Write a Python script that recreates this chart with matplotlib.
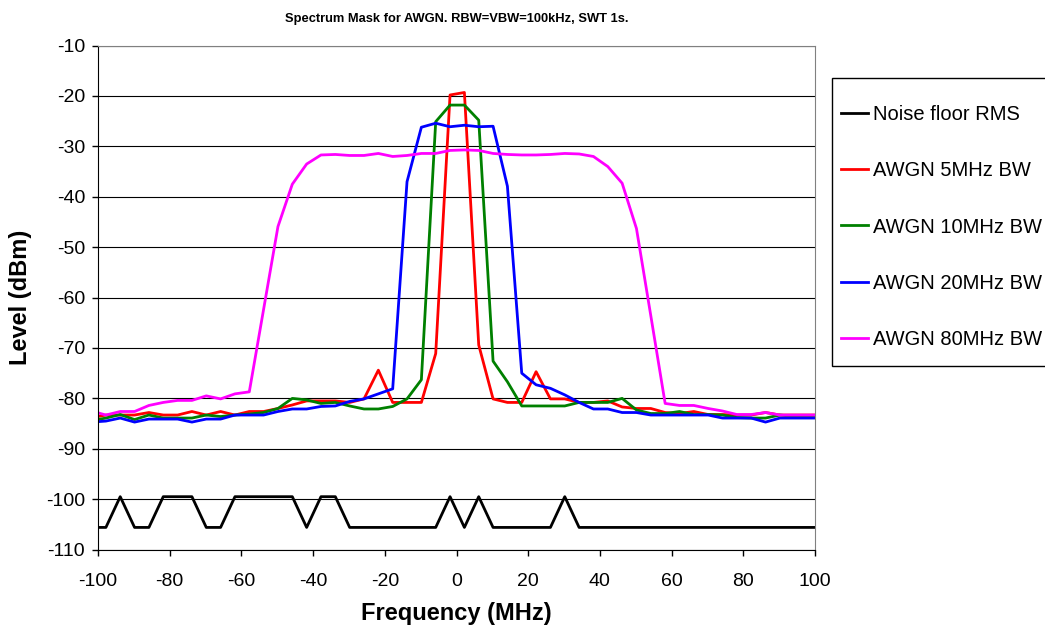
import matplotlib.pyplot as plt
from matplotlib.patches import Rectangle

plt.rcParams['font.family'] = ['Liberation Sans', 'DejaVu Sans']
plt.rcParams['axes.unicode_minus'] = False

# Sweep frequencies (MHz), 4 MHz step
freq = [-101.8, -97.8, -93.8, -89.8, -85.8, -81.8, -77.8, -73.8, -69.8, -65.8,
        -61.8, -57.8, -53.8, -49.8, -45.8, -41.8, -37.8, -33.8, -29.8, -25.8,
        -21.8, -17.8, -13.8, -9.8, -5.8, -1.8, 2.2, 6.2, 10.2, 14.2,
        18.2, 22.2, 26.2, 30.2, 34.2, 38.2, 42.2, 46.2, 50.2, 54.2,
        58.2, 62.2, 66.2, 70.2, 74.2, 78.2, 82.2, 86.2, 90.2, 94.2,
        98.2, 102.2]

noise_floor = [-105.6, -105.6, -99.5, -105.6, -105.6, -99.5, -99.5, -99.5, -105.6, -105.6,
               -99.5, -99.5, -99.5, -99.5, -99.5, -105.6, -99.5, -99.5, -105.6, -105.6,
               -105.6, -105.6, -105.6, -105.6, -105.6, -99.5, -105.6, -99.5, -105.6, -105.6,
               -105.6, -105.6, -105.6, -99.5, -105.6, -105.6, -105.6, -105.6, -105.6, -105.6,
               -105.6, -105.6, -105.6, -105.6, -105.6, -105.6, -105.6, -105.6, -105.6, -105.6,
               -105.6, -105.6]

awgn_5 = [-83.8, -83.3, -83.3, -83.3, -82.8, -83.3, -83.3, -82.6, -83.3, -82.6,
          -83.3, -82.6, -82.6, -82.0, -81.3, -80.5, -80.5, -80.5, -80.8, -80.1,
          -74.4, -80.8, -80.8, -80.8, -71.1, -19.8, -19.3, -69.4, -80.1, -80.8,
          -80.8, -74.7, -80.1, -80.1, -80.8, -80.8, -80.5, -81.7, -82.0, -82.0,
          -82.8, -83.0, -82.6, -83.2, -83.2, -83.3, -83.3, -82.8, -83.3, -83.3,
          -83.3, -83.3]

awgn_10 = [-84.4, -83.9, -83.2, -84.2, -83.3, -83.9, -83.9, -83.9, -83.3, -83.6,
           -83.3, -83.1, -82.8, -82.0, -80.0, -80.3, -81.0, -80.8, -81.5, -82.1,
           -82.1, -81.6, -80.1, -76.3, -25.1, -21.8, -21.8, -24.8, -72.6, -76.7,
           -81.5, -81.5, -81.5, -81.5, -80.8, -80.8, -80.8, -80.0, -82.3, -83.0,
           -83.0, -82.6, -83.2, -83.2, -83.3, -83.8, -83.9, -83.9, -83.3, -83.6,
           -83.6, -83.6]

awgn_20 = [-84.7, -84.5, -83.9, -84.7, -84.1, -84.1, -84.1, -84.7, -84.1, -84.1,
           -83.3, -83.3, -83.3, -82.6, -82.1, -82.1, -81.6, -81.5, -80.6, -80.1,
           -79.1, -78.1, -37.0, -26.2, -25.4, -26.1, -25.8, -26.1, -26.0, -37.9,
           -75.0, -77.3, -78.0, -79.3, -80.8, -82.1, -82.1, -82.8, -82.8, -83.3,
           -83.3, -83.3, -83.3, -83.3, -83.9, -83.9, -83.9, -84.7, -83.9, -83.9,
           -83.9, -83.9]

awgn_80 = [-82.5, -83.3, -82.6, -82.6, -81.4, -80.8, -80.4, -80.4, -79.5, -80.1,
           -79.1, -78.7, -62.3, -45.9, -37.5, -33.5, -31.7, -31.6, -31.8, -31.8,
           -31.4, -32.0, -31.8, -31.4, -31.4, -30.8, -30.7, -30.8, -31.4, -31.6,
           -31.7, -31.7, -31.6, -31.4, -31.5, -32.0, -34.0, -37.3, -46.3, -63.6,
           -81.0, -81.4, -81.4, -82.0, -82.5, -83.2, -83.2, -82.8, -83.3, -83.3,
           -83.3, -83.3]

fig = plt.figure(figsize=(10.45, 6.32), dpi=100)
ax = fig.add_axes([98 / 1045, 1 - 549.6 / 632, 717 / 1045, 504 / 632])

ax.plot(freq, noise_floor, color='black', lw=2, label='Noise floor RMS')
ax.plot(freq, awgn_5, color='#FF0000', lw=2, label='AWGN 5MHz BW')
ax.plot(freq, awgn_10, color='#008000', lw=2, label='AWGN 10MHz BW')
ax.plot(freq, awgn_20, color='#0000FF', lw=2, label='AWGN 20MHz BW')
ax.plot(freq, awgn_80, color='#FF00FF', lw=2, label='AWGN 80MHz BW')

ax.set_xlim(-100, 100)
ax.set_ylim(-110, -10)
ax.set_xticks(range(-100, 101, 20))
ax.set_yticks(range(-110, -9, 10))
ax.yaxis.grid(True, color='black', lw=0.8)
ax.set_axisbelow(True)
ax.tick_params(direction='out', length=4, width=1, labelsize=14, colors='black')
ax.tick_params(axis='x', pad=12.5)
ax.tick_params(axis='y', pad=5.3)

for side in ['top', 'right']:
    ax.spines[side].set_color('#808080')
for side in ['left', 'bottom']:
    ax.spines[side].set_color('black')

ax.set_xlabel('Frequency (MHz)', fontsize=17, fontweight='bold', labelpad=9)
ax.set_ylabel('Level (dBm)', fontsize=17, fontweight='bold')
ax.yaxis.set_label_coords(-66 / 717, 0.5)
ax.set_title('Spectrum Mask for AWGN. RBW=VBW=100kHz, SWT 1s.',
             fontsize=9.3, fontweight='bold', pad=17)

# legend box (runs off the right edge like the original)
fig.patches.append(Rectangle((832 / 1045, 1 - 366 / 632), 260 / 1045, 288 / 632,
                             transform=fig.transFigure, facecolor='white',
                             edgecolor='black', lw=1, zorder=0))
leg = fig.legend(loc='upper left', bbox_to_anchor=(841 / 1045, 1 - 105 / 632),
                 fontsize=14.5, frameon=False, handlelength=1.35,
                 handletextpad=0.25, labelspacing=1.85,
                 borderpad=0, borderaxespad=0)

fig.savefig('out.png', dpi=100)
